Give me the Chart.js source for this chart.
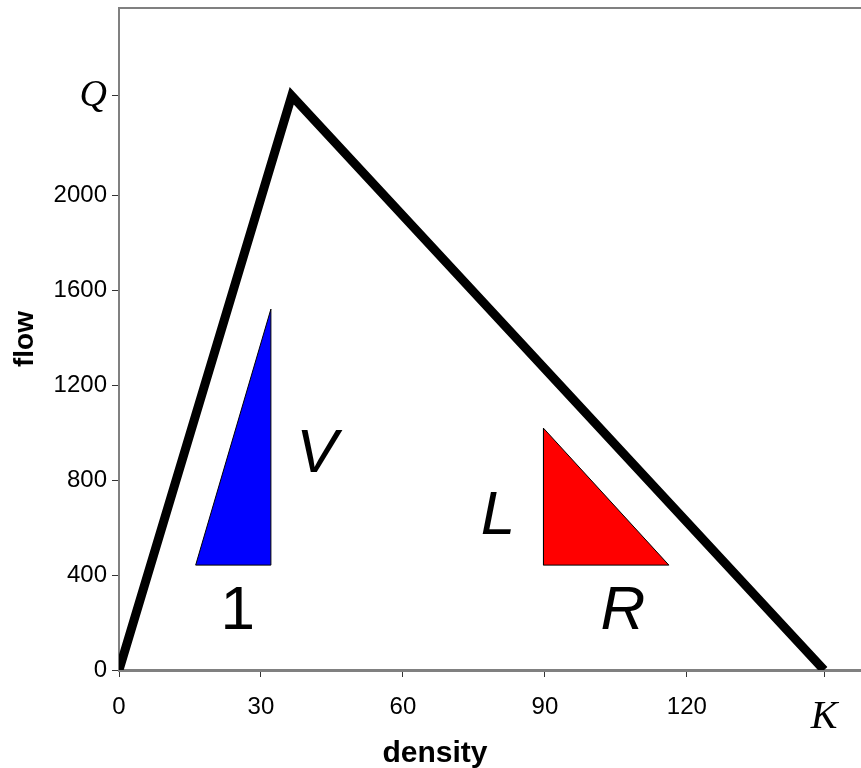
<!DOCTYPE html>
<html>
<head>
<meta charset="utf-8">
<title>flow vs density</title>
<script src="https://cdn.jsdelivr.net/npm/chart.js@4.4.0/dist/chart.umd.min.js"></script>
<style>
  html, body { margin: 0; padding: 0; background: #fff; }
  #wrap { width: 861px; height: 768px; }
</style>
</head>
<body>
<div id="wrap"><canvas id="fd-chart" width="861" height="768"></canvas></div>
<script>
// triangular fundamental diagram: density (x) against flow (y)
const densityPts = [0, 36.5, 149];
const flowPts = [0, 2420, 0];

const xTickValues = [0, 30, 60, 90, 120, 149];
const xTickLabels = ["0", "30", "60", "90", "120", "K"];
const yTickValues = [0, 400, 800, 1200, 1600, 2000, 2420];
const yTickLabels = ["0", "400", "800", "1200", "1600", "2000", "Q"];

// slope triangles
const blueX = [16.2, 32.1, 32.1, 16.2];
const blueY = [442, 442, 1521, 442];
const redX = [89.7, 89.7, 116.2, 89.7];
const redY = [1019, 442, 442, 1019];

// letters beside the triangles
const noteText = ["V", "1", "L", "R"];
const noteX = [41.8, 25.1, 80.1, 106.5];
const noteY = [906, 245, 645, 245];
const noteItalic = [true, false, true, true];

const sans = "'Liberation Sans', Arial, sans-serif";
const serif = "'Liberation Serif', 'Times New Roman', serif";

function toPoints(xs, ys) {
    return xs.map((x, i) => ({ x: x, y: ys[i] }));
}

const extras = {
    id: "extras",
    beforeDatasetsDraw(chart) {
        // grey frame line along the top of the plot
        const { ctx, chartArea } = chart;
        ctx.save();
        ctx.strokeStyle = "#808080";
        ctx.lineWidth = 2;
        ctx.beginPath();
        ctx.moveTo(chartArea.left - 1, chartArea.top);
        ctx.lineTo(chartArea.right, chartArea.top);
        ctx.stroke();
        ctx.restore();
    },
    afterDatasetsDraw(chart) {
        const { ctx } = chart;
        const xs = chart.scales.x;
        const ys = chart.scales.y;
        ctx.save();
        ctx.fillStyle = "#000";
        ctx.textAlign = "center";
        ctx.textBaseline = "middle";
        noteText.forEach((t, i) => {
            ctx.font = (noteItalic[i] ? "italic " : "") + "62px " + sans;
            ctx.fillText(t, xs.getPixelForValue(noteX[i]), ys.getPixelForValue(noteY[i]));
        });
        // x axis title
        ctx.font = "bold 30px " + sans;
        ctx.fillText("density", 435, 754);
        ctx.restore();
    }
};

const ctx = document.getElementById("fd-chart").getContext("2d");
new Chart(ctx, {
    type: "scatter",
    data: {
        datasets: [
            {
                label: "flow",
                data: toPoints(densityPts, flowPts),
                showLine: true,
                borderColor: "#000",
                borderWidth: 9,
                borderJoinStyle: "miter",
                borderCapStyle: "butt",
                pointRadius: 0,
                fill: false
            },
            {
                label: "V",
                data: toPoints(blueX, blueY),
                showLine: true,
                borderColor: "#000",
                borderWidth: 1,
                backgroundColor: "#0000ff",
                fill: "shape",
                pointRadius: 0
            },
            {
                label: "L/R",
                data: toPoints(redX, redY),
                showLine: true,
                borderColor: "#000",
                borderWidth: 1,
                backgroundColor: "#ff0000",
                fill: "shape",
                pointRadius: 0
            }
        ]
    },
    options: {
        responsive: false,
        animation: false,
        layout: { padding: { top: 8, right: 0, left: 0, bottom: 0 } },
        scales: {
            x: {
                type: "linear",
                min: 0,
                max: 156.8,
                afterBuildTicks: s => { s.ticks = xTickValues.map(v => ({ value: v })); },
                afterFit: s => { s.height = 98; s.paddingLeft = 0; s.paddingRight = 0; },
                grid: { drawOnChartArea: false, drawTicks: true, tickLength: 7, color: "#333", lineWidth: 1 },
                border: { color: "#808080", width: 3 },
                ticks: {
                    autoSkip: false,
                    maxRotation: 0,
                    padding: 16,
                    color: "#000",
                    callback: v => xTickLabels[xTickValues.indexOf(v)],
                    font: c => (c.tick && c.tick.value === 149)
                        ? { family: serif, size: 40, style: "italic" }
                        : { family: sans, size: 24 }
                }
            },
            y: {
                type: "linear",
                min: 0,
                max: 2790,
                afterBuildTicks: s => { s.ticks = yTickValues.map(v => ({ value: v })); },
                afterFit: s => { s.width = 119; s.paddingTop = 0; s.paddingBottom = 0; },
                grid: { drawOnChartArea: false, drawTicks: true, tickLength: 7, color: "#333", lineWidth: 1 },
                border: { color: "#808080", width: 2 },
                title: {
                    display: true,
                    text: "flow",
                    color: "#000",
                    font: { family: sans, size: 28, weight: "bold" },
                    padding: { top: 8, bottom: 0 }
                },
                ticks: {
                    autoSkip: false,
                    padding: 5,
                    color: "#000",
                    callback: v => yTickLabels[yTickValues.indexOf(v)],
                    font: c => (c.tick && c.tick.value === 2420)
                        ? { family: serif, size: 38, style: "italic" }
                        : { family: sans, size: 24 }
                }
            }
        },
        plugins: {
            legend: { display: false },
            tooltip: { enabled: false }
        }
    },
    plugins: [extras]
});
</script>
</body>
</html>
